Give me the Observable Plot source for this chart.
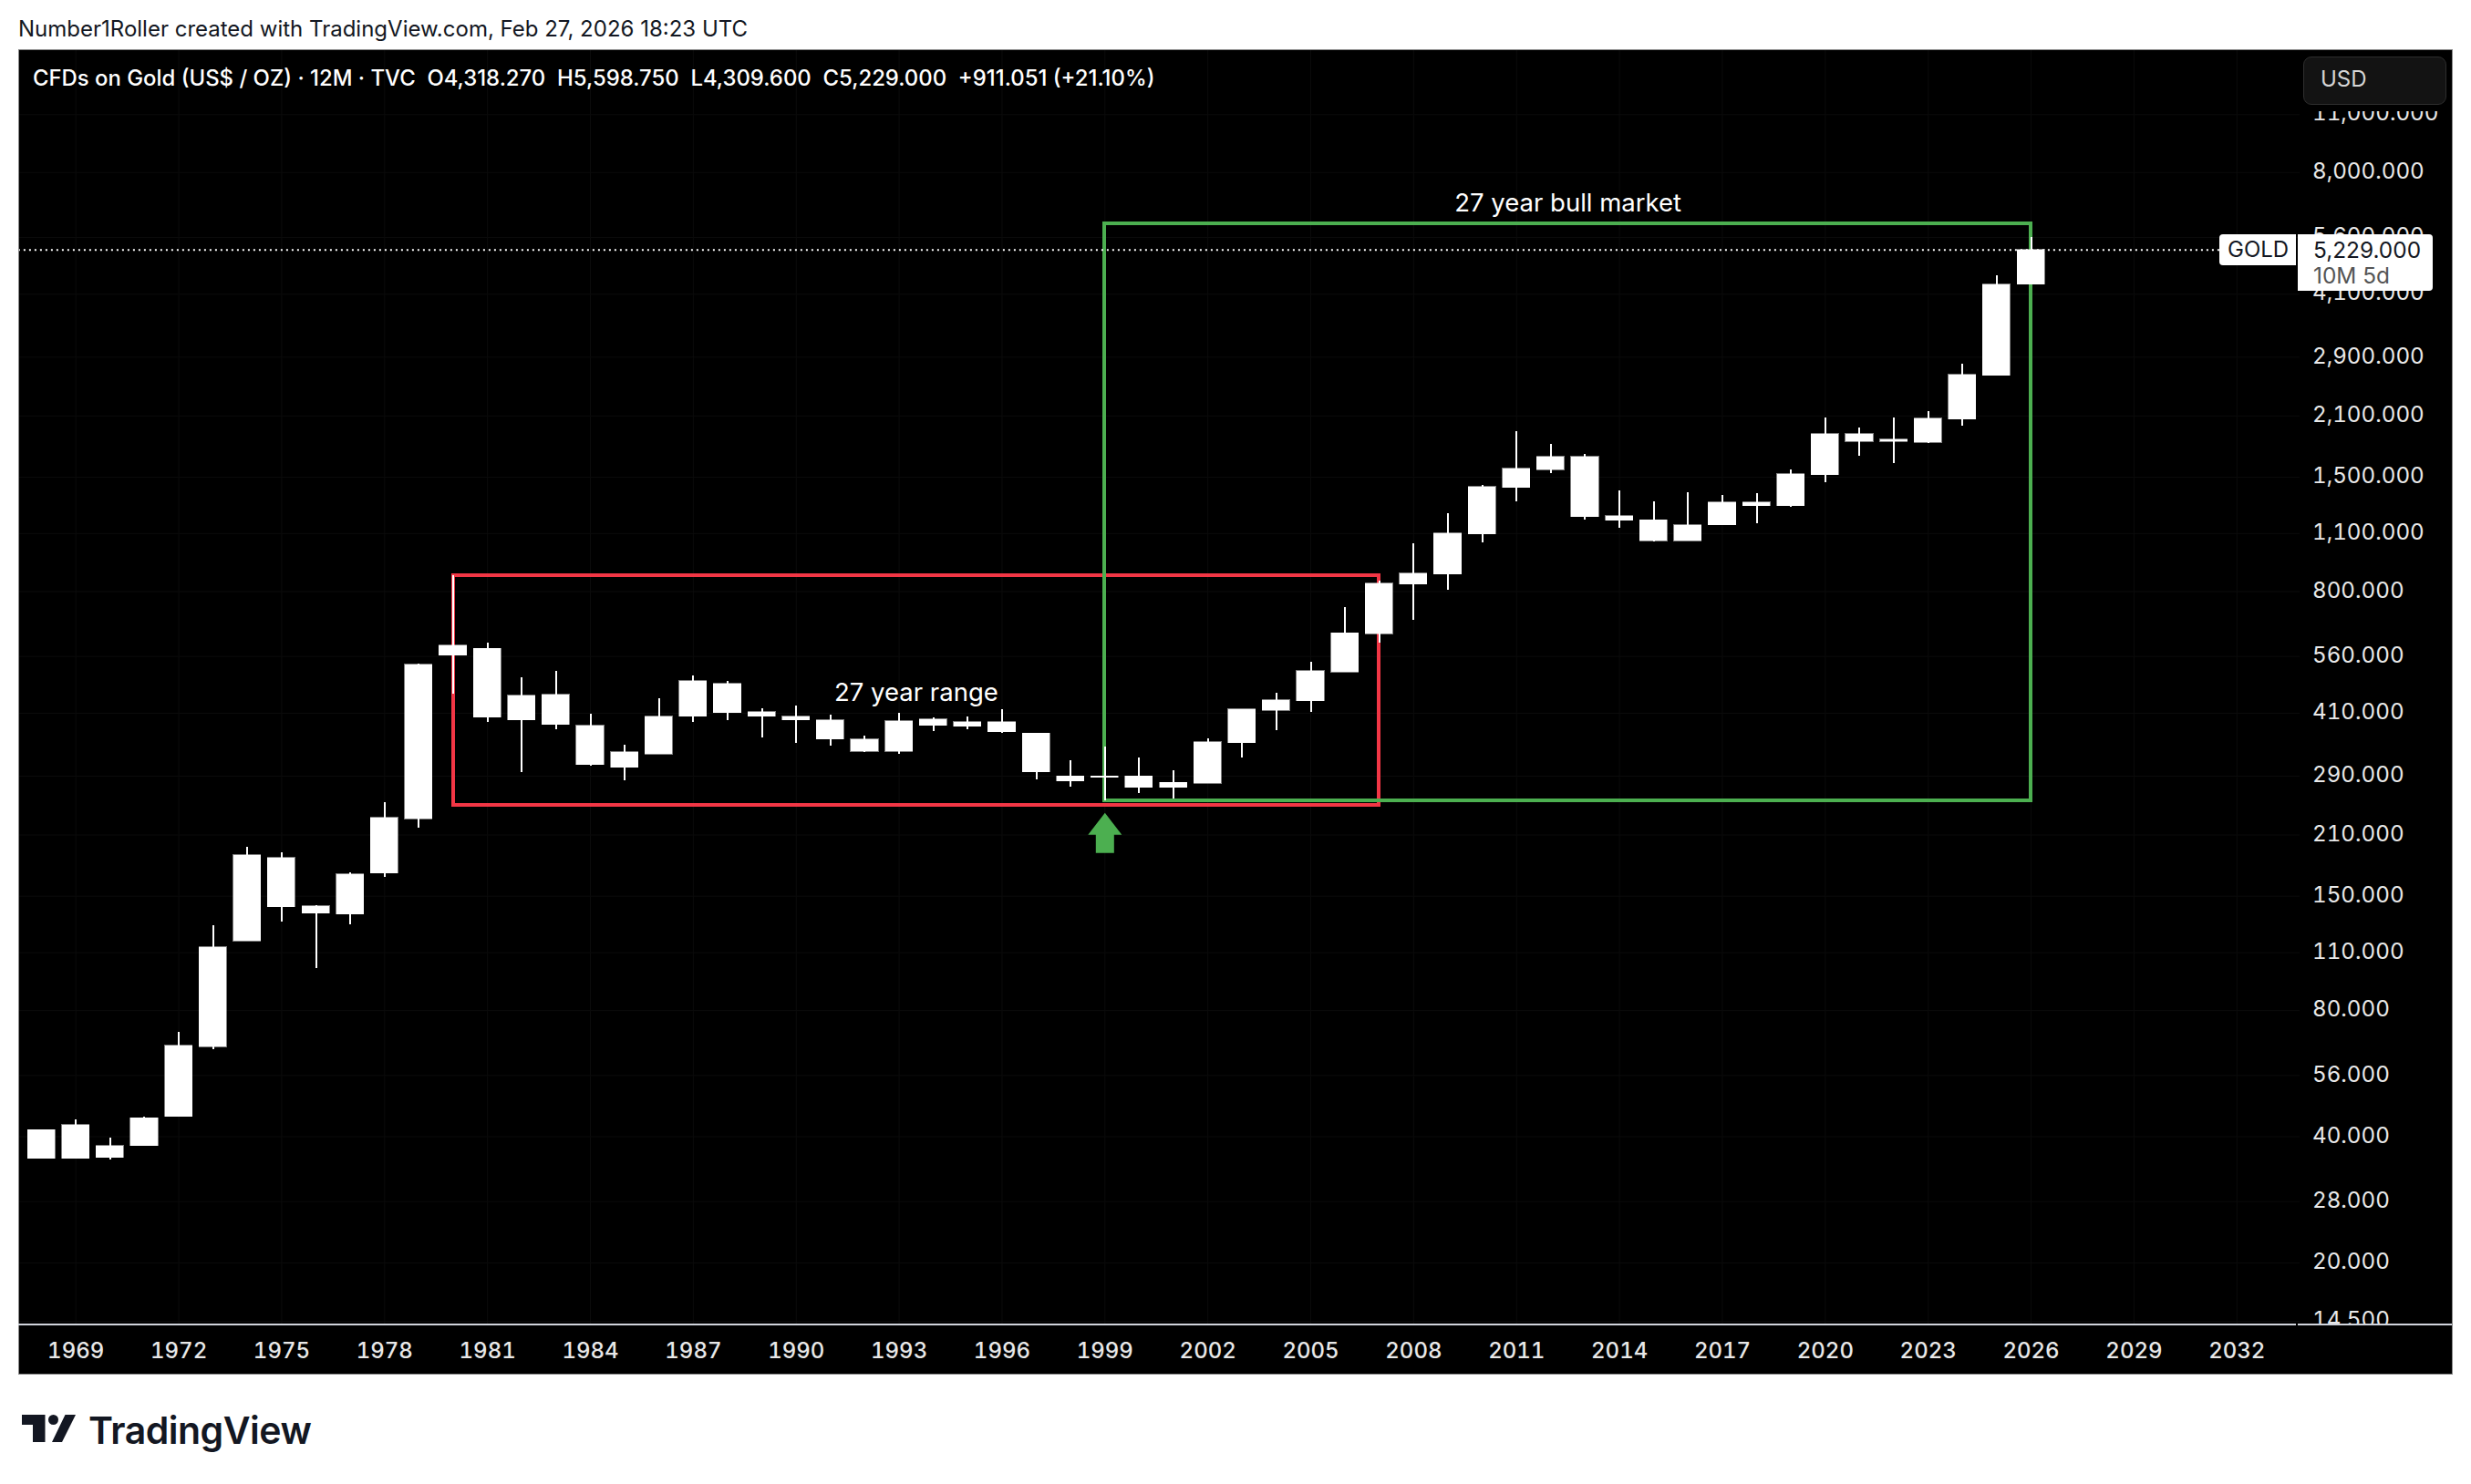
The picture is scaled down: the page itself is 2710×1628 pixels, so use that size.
<!DOCTYPE html>
<html>
<head>
<meta charset="utf-8">
<script src="https://cdn.jsdelivr.net/npm/d3@7"></script>
<script src="https://cdn.jsdelivr.net/npm/@observablehq/plot@0.6"></script>
<style>
html,body{margin:0;padding:0;background:#fff;width:2710px;height:1628px;overflow:hidden;font-family:Inter,"Noto Sans",sans-serif;}
.abs{position:absolute;white-space:nowrap;}
#chart{position:absolute;left:20px;top:54px;}
#chart svg{display:block;}
</style>
</head>
<body>
<div class="abs" id="credit" style="left:20px;top:18px;font-size:24px;line-height:28px;color:#131722;">Number1Roller created with TradingView.com, Feb 27, 2026 18:23 UTC</div>
<div id="chart"></div>
<div class="abs" style="left:20px;top:54px;width:2668px;height:1452px;border:1px solid #8a8a8a;pointer-events:none;"></div>
<div class="abs" id="legend" style="left:36px;top:71px;font-size:23.9px;line-height:30px;font-weight:500;color:#fff;">CFDs on Gold (US$ / OZ) · 12M · TVC&nbsp; O4,318.270&nbsp; H5,598.750&nbsp; L4,309.600&nbsp; C5,229.000&nbsp; +911.051 (+21.10%)</div>
<div class="abs" style="left:2522px;top:55px;width:167px;height:67px;background:#000;"></div>
<div class="abs" style="left:2526px;top:62px;width:155px;height:51px;background:#131313;border:1px solid #2e2e2e;border-radius:9px;"></div>
<div class="abs" style="left:2545px;top:72px;font-size:24px;line-height:30px;color:#d6d6d6;">USD</div>
<div class="abs" style="left:2434px;top:257px;width:84px;height:34px;background:#fff;border-radius:4px 0 0 4px;"></div>
<div class="abs" style="left:2443px;top:259px;font-size:24px;line-height:30px;color:#131722;">GOLD</div>
<div class="abs" style="left:2520px;top:257px;width:148px;height:62px;background:#fff;border-radius:0 4px 4px 0;"></div>
<div class="abs" style="left:2537px;top:259px;font-size:24.4px;line-height:30px;color:#131722;">5,229.000</div>
<div class="abs" style="left:2537px;top:287px;font-size:24.4px;line-height:30px;color:#555;">10M 5d</div>
<svg class="abs" style="left:24px;top:1552px;" width="60" height="30" viewBox="0 0 60 30">
<path d="M0 0H25.5V30H12V11H0Z M47.5 0H59L44 30H33Z" fill="#131722"/><circle cx="34.5" cy="5.5" r="5.5" fill="#131722"/>
</svg>
<div class="abs" id="logo" style="left:97px;top:1545px;font-size:41px;line-height:48px;font-weight:600;letter-spacing:-0.5px;color:#131722;">TradingView</div>
<script>
const years = d3.range(1968, 2027);
const opens = [35.4,42.6,35.6,38.0,44.6,65.5,117.1,184.9,141.8,135.5,169.8,229.2,562,584.8,393.8,453.1,382.1,303.5,327,401.8,481.2,412,401.8,393.8,354.5,332,395.8,380.2,390,367,290,287.4,290,271.8,278.6,347.5,416,437.4,513.4,633.6,830.8,877.6,1094,1412.5,1561,1675,1209.5,1185,1056,1150.4,1304,1278,1515,1898,1842,1814,2057,2620,4318.27];
const highs = [41.5,43.9,39.7,44.6,71.0,127.6,196.3,190.5,142.5,170.6,251,537.4,873,602.6,498.4,516,407.9,344,444,503.5,488.4,420.4,426.7,405.8,361.6,410,399.7,401.8,418.2,367,316,340.6,320.8,299,356,418.2,457.6,542.7,732.8,847.8,1040.6,1227.8,1434,1927,1796,1700.6,1391.6,1310,1377.5,1357,1371,1561,2077.6,1966,2077.6,2151,2791,4530,5598.75];
const lows = [35.4,35.4,35.2,38.0,44.6,64.6,117.1,130.2,100.8,128.2,166.4,218.3,455,390.5,296,374.6,306.6,283,327,390,393.8,358,347.5,342.4,330.4,327,370.8,374.6,367,284.4,273.2,253.7,263.8,256,278.6,320.8,372.7,412,513.4,602.6,683,806,1046,1310,1530,1185,1133,1051,1056,1150.4,1161.9,1271.7,1455,1682.7,1616.6,1805,1986,2620,4309.6];
const closes = [41.5,35.4,38.0,44.3,65.9,113.2,187.6,141.1,136.2,169,230.4,534.6,594,400.4,450.8,384,308.2,330.4,401.8,488.4,410,401.8,393.8,354.5,332,391.8,382.1,390,369,296,281.5,289.5,271.8,280,349.2,418.2,439.6,516,636.8,835,882.3,1099.7,1419.4,1569,1675,1203.4,1179.5,1056,1150.4,1304,1278,1522.8,1898,1823,1823,2067,2629,4318,5229];
const candles = years.map((year, i) => ({year, open: opens[i], high: highs[i], low: lows[i], close: closes[i]}));

const yTicks = [14.5,20,28,40,56,80,110,150,210,290,410,560,800,1100,1500,2100,2900,4100,5600,8000,11000];
const xTicks = d3.range(1969, 2033, 3);
const rangeBox = [{x1: 1980, x2: 2007, y1: 246.6, y2: 873}];
const bullBox = [{x1: 1999, x2: 2026, y1: 253.7, y2: 6037}];
const notes = [{x: 1993.5, y: 457.6, text: "27 year range"}, {x: 2012.5, y: 6743, text: "27 year bull market"}];
const arrowTip = [{x: 1999, y: 237}];
const lastClose = [{x1: 1967.33, x2: 2031.5, y: 5229}];
const f3 = d3.format(",.3f");

const arrow = {draw(c) {
  c.moveTo(0, 0); c.lineTo(18.5, 24); c.lineTo(10, 24); c.lineTo(10, 44);
  c.lineTo(-10, 44); c.lineTo(-10, 24); c.lineTo(-18.5, 24); c.closePath();
}};
const cutBottom = (index, scales, values, {width, height, marginBottom}) => {
  const r = document.createElementNS("http://www.w3.org/2000/svg", "rect");
  r.setAttribute("x", 0); r.setAttribute("y", height - marginBottom);
  r.setAttribute("width", width); r.setAttribute("height", marginBottom); r.setAttribute("fill", "#000");
  return r;
};

const plot = Plot.plot({
  width: 2670, height: 1454,
  marginLeft: 0, marginRight: 168, marginTop: 0, marginBottom: 55,
  style: {background: "#000", color: "#fff", fontFamily: "Inter, sans-serif", fontSize: "24px"},
  x: {type: "linear", domain: [1967.333, 2033.84]},
  y: {type: "log", domain: [14.22, 15713]},
  marks: [
    Plot.gridX(xTicks, {stroke: "#0b0b0b", strokeOpacity: 1, strokeWidth: 1}),
    Plot.gridY(yTicks, {stroke: "#0b0b0b", strokeOpacity: 1, strokeWidth: 1}),
    Plot.axisY(yTicks, {anchor: "right", tickSize: 0, tickPadding: 13.5, dy: -1, tickFormat: f3, label: null, fill: "#e8e8e8", fontSize: 24.2}),
    cutBottom,
    Plot.axisX(xTicks, {anchor: "bottom", tickSize: 0, tickPadding: 19, tickFormat: d => String(d), label: null, fill: "#e8e8e8", fontSize: 24, fontWeight: 500}),
    Plot.rect(rangeBox, {x1: "x1", x2: "x2", y1: "y1", y2: "y2", fill: "none", stroke: "#f23645", strokeWidth: 4, shapeRendering: "crispEdges"}),
    Plot.rect(bullBox, {x1: "x1", x2: "x2", y1: "y1", y2: "y2", fill: "none", stroke: "#4caf50", strokeWidth: 4, shapeRendering: "crispEdges"}),
    Plot.ruleX(candles, {x: "year", y1: "low", y2: "high", stroke: "#fff", strokeWidth: 2, shapeRendering: "crispEdges"}),
    Plot.rect(candles, {x1: d => d.year - 0.4, x2: d => d.year + 0.4, y1: "open", y2: "close", fill: "#fff", stroke: "#fff", strokeWidth: 0.5, shapeRendering: "crispEdges"}),
    Plot.ruleY(lastClose, {x1: "x1", x2: "x2", y: "y", stroke: "#fff", strokeWidth: 2, strokeDasharray: "2,4"}),
    Plot.text(notes, {x: "x", y: "y", text: "text", fill: "#fff", fontSize: 27.5}),
    Plot.dot(arrowTip, {x: "x", y: "y", symbol: arrow, r: 10, fill: "#4caf50", stroke: "none"})
  ]
});
document.getElementById("chart").appendChild(plot);
for (const [l, w] of [[20, 2498], [2520, 169]]) {
  const ax = document.createElement("div");
  ax.className = "abs";
  ax.style.cssText = `left:${l}px;top:1452px;width:${w}px;height:2px;background:#d1d4dc;`;
  document.body.appendChild(ax);
}
</script>
</body>
</html>
